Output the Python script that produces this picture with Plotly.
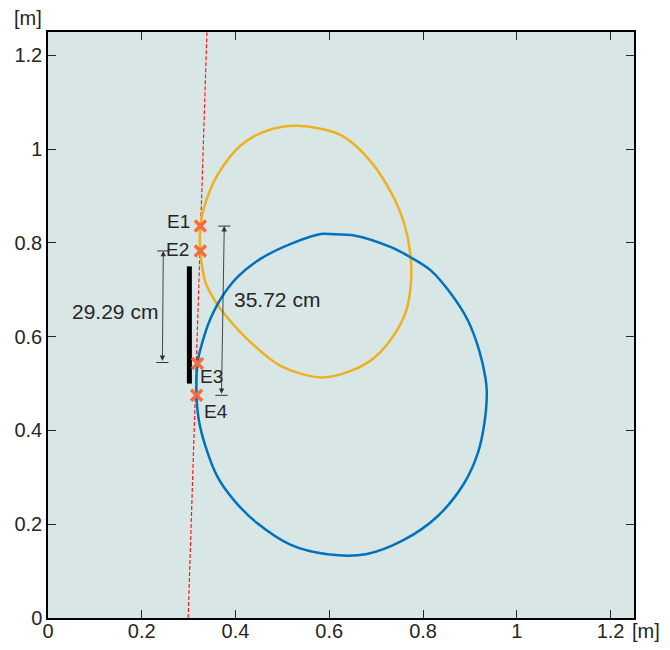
import plotly.graph_objects as go

# ---- data ----
blue_x = [0.603, 0.582, 0.518, 0.453, 0.404, 0.368, 0.343, 0.327, 0.319, 0.317, 0.3215, 0.336,
          0.361, 0.396, 0.446, 0.518, 0.596, 0.678, 0.760, 0.831, 0.888, 0.917, 0.931, 0.936,
          0.933, 0.920, 0.896, 0.860, 0.817, 0.774, 0.7316, 0.653, 0.603]
blue_y = [0.819, 0.819, 0.798, 0.766, 0.727, 0.680, 0.630, 0.580, 0.545, 0.475, 0.4235, 0.366,
          0.302, 0.252, 0.2025, 0.156, 0.136, 0.136, 0.167, 0.217, 0.288, 0.352, 0.4165, 0.481,
          0.513, 0.570, 0.634, 0.691, 0.741, 0.769, 0.791, 0.816, 0.819]

yellow_x = [0.532, 0.468, 0.411, 0.361, 0.332, 0.325, 0.325, 0.336, 0.354, 0.368, 0.425, 0.496,
            0.582, 0.646, 0.696, 0.739, 0.764, 0.774, 0.773, 0.760, 0.739, 0.689, 0.625, 0.532]
yellow_y = [1.050, 1.040, 1.008, 0.944, 0.873, 0.836, 0.783, 0.716, 0.680, 0.659, 0.595, 0.538,
            0.513, 0.527, 0.555, 0.605, 0.655, 0.712, 0.776, 0.841, 0.894, 0.973, 1.030, 1.050]

red_line_x = [0.299, 0.339]
red_line_y = [0.0, 1.25]

bar_x = [0.3016, 0.3016]
bar_y = [0.50, 0.75]

elec_names = ["E1", "E2", "E3", "E4"]
elec_x = [0.325, 0.325, 0.319, 0.317]
elec_y = [0.836, 0.783, 0.543, 0.475]
elec_label_x = [0.308, 0.306, 0.320, 0.329]
elec_label_y = [0.845, 0.787, 0.515, 0.441]
elec_label_anchor = ["right", "right", "left", "left"]

dim_labels = ["29.29 cm", "35.72 cm"]
dim_top = [(0.246, 0.783), (0.376, 0.836)]
dim_bot = [(0.244, 0.545), (0.370, 0.475)]
dim_cap_half = 0.013
dim_text_pos = [(0.143, 0.654), (0.489, 0.680)]

tick_vals = [0, 0.2, 0.4, 0.6, 0.8, 1.0, 1.2]
tick_text = ["0", "0.2", "0.4", "0.6", "0.8", "1", "1.2"]
axis_range = [0, 1.25]
unit_label = "[m]"

FONT = "Liberation Sans, Arial, sans-serif"
TXT = "#262626"

fig = go.Figure()

fig.add_trace(go.Scatter(x=red_line_x, y=red_line_y, mode="lines",
                         line=dict(color="#ff1a1a", width=1.2, dash="4px,2px")))
fig.add_trace(go.Scatter(x=yellow_x, y=yellow_y, mode="lines",
                         line=dict(color="#edb120", width=2.5, shape="spline", smoothing=0.9)))
fig.add_trace(go.Scatter(x=blue_x, y=blue_y, mode="lines",
                         line=dict(color="#0072bd", width=2.5, shape="spline", smoothing=0.9)))
fig.add_trace(go.Scatter(x=bar_x, y=bar_y, mode="lines",
                         line=dict(color="black", width=5)))

# dimension caps
for (tx, ty), (bx, by) in zip(dim_top, dim_bot):
    fig.add_trace(go.Scatter(x=[tx - dim_cap_half, tx + dim_cap_half], y=[ty, ty], mode="lines",
                             line=dict(color="#333333", width=1)))
    fig.add_trace(go.Scatter(x=[bx - dim_cap_half, bx + dim_cap_half], y=[by, by], mode="lines",
                             line=dict(color="#333333", width=1)))

fig.add_trace(go.Scatter(x=elec_x, y=elec_y, mode="markers",
                         marker=dict(symbol="x-thin", size=11,
                                     line=dict(width=3.5, color="#fa6a3c"), color="#fa6a3c")))

annotations = []
for (tx, ty), (bx, by) in zip(dim_top, dim_bot):
    annotations.append(dict(x=tx, y=ty, ax=bx, ay=by, xref="x", yref="y", axref="x", ayref="y",
                            text="", showarrow=True, arrowhead=2, arrowside="end+start",
                            arrowsize=1.2, arrowwidth=0.9, arrowcolor="#333333"))
for lab, (px, py) in zip(dim_labels, dim_text_pos):
    annotations.append(dict(x=px, y=py, xref="x", yref="y", text=lab, showarrow=False,
                            font=dict(family=FONT, size=21, color=TXT)))
for n, lx, ly, anc in zip(elec_names, elec_label_x, elec_label_y, elec_label_anchor):
    annotations.append(dict(x=lx, y=ly, xref="x", yref="y", text=n, showarrow=False,
                            xanchor=anc, yanchor="middle", font=dict(family=FONT, size=19, color=TXT)))
annotations.append(dict(x=-0.034, y=1.024, xref="paper", yref="paper", text=unit_label,
                        showarrow=False, xanchor="center", yanchor="middle",
                        font=dict(family=FONT, size=20, color=TXT)))
annotations.append(dict(x=1.02, y=-0.022, xref="paper", yref="paper", text=unit_label,
                        showarrow=False, xanchor="center", yanchor="middle",
                        font=dict(family=FONT, size=20, color=TXT)))

axis_common = dict(range=axis_range, autorange=False, tickvals=tick_vals, ticktext=tick_text,
                   ticks="inside", ticklen=8, tickwidth=1, tickcolor="#262626",
                   showline=True, linecolor="black", linewidth=1.5, mirror="ticks",
                   showgrid=False, zeroline=False, automargin=False, constrain="domain",
                   tickfont=dict(family=FONT, size=20, color=TXT))

# page body adds an 8px offset; margins compensate so the plot lands at 48..634 x 32..618
fig.update_layout(
    width=662, height=634, autosize=False,
    margin=dict(l=40, r=36, t=24, b=24, pad=0),
    paper_bgcolor="white", plot_bgcolor="#d9e6e6",
    showlegend=False,
    xaxis=dict(**axis_common, ticklabelstandoff=-6),
    yaxis=dict(**axis_common, scaleanchor="x", scaleratio=1),
    annotations=annotations,
)

fig.write_html("out.html")
